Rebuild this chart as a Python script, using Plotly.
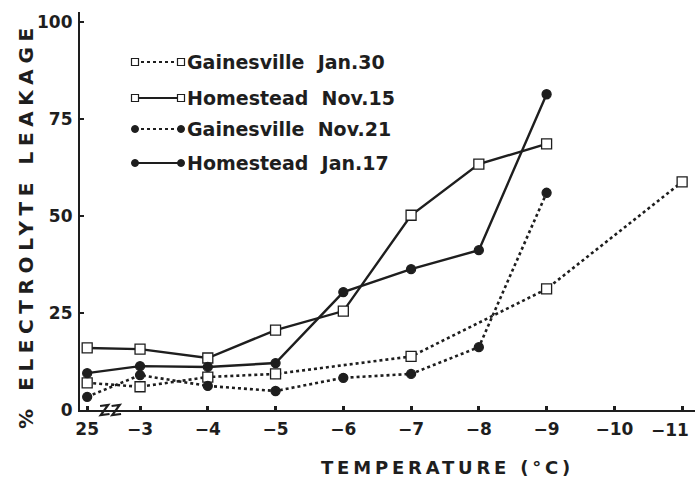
import plotly.graph_objects as go

# Temperatures on the x axis (25 = unfrozen control, shown left of an axis break)
temp_ticks = [25, -3, -4, -5, -6, -7, -8, -9, -10, -11]
temp_labels = ["25", "\u22123", "\u22124", "\u22125", "\u22126", "\u22127",
               "\u22128", "\u22129", "\u221210", "\u221211"]

# % electrolyte leakage per series
gain_jan30_t = [25, -3, -4, -5, -7, -9, -11]
gain_jan30_v = [7.0, 6.0, 8.5, 9.3, 13.8, 31.2, 58.8]

home_nov15_t = [25, -3, -4, -5, -6, -7, -8, -9]
home_nov15_v = [16.0, 15.7, 13.4, 20.6, 25.5, 50.2, 63.4, 68.6]

gain_nov21_t = [25, -3, -4, -5, -6, -7, -8, -9]
gain_nov21_v = [3.4, 9.0, 6.2, 4.9, 8.3, 9.3, 16.2, 56.0]

home_jan17_t = [25, -3, -4, -5, -6, -7, -8, -9]
home_jan17_v = [9.5, 11.3, 11.1, 12.1, 30.4, 36.3, 41.2, 81.4]

y_ticks = [0, 25, 50, 75, 100]

INK = "#1e1e1e"
FONT = "DejaVu Sans"


def xpos(t):
    """Axis position: freezing temps map to |t|; the control sits before the break."""
    return 2.22 if t > 0 else -t


series = [
    ("Gainesville  Jan.30", gain_jan30_t, gain_jan30_v, "dot", "square-open"),
    ("Homestead  Nov.15", home_nov15_t, home_nov15_v, "solid", "square-open"),
    ("Gainesville  Nov.21", gain_nov21_t, gain_nov21_v, "dot", "circle"),
    ("Homestead  Jan.17", home_jan17_t, home_jan17_v, "solid", "circle"),
]

fig = go.Figure()
for name, ts, vs, dash, sym in series:
    is_open = sym == "square-open"
    fig.add_trace(go.Scatter(
        x=[xpos(t) for t in ts], y=vs, name=name, mode="lines+markers",
        line=dict(color=INK, width=2.4 if dash == "solid" else 2.6, dash=dash),
        marker=dict(symbol="square" if is_open else "circle",
                    size=10 if is_open else 9,
                    color="white" if is_open else INK,
                    line=dict(color=INK, width=1.3)),
        cliponaxis=False, showlegend=False,
    ))

# plot area geometry in pixels
L, R, T, B = 80, 0, 12, 73
W, H = 695, 483
PW, PH = W - L - R, H - T - B


def px(x):
    return (x - L) / PW


def py(y):
    return (H - B - y) / PH


shapes = []
annotations = []

# legend drawn as line samples with a marker at each end
legend_rows = [62, 98, 129, 163]
for (name, ts, vs, dash, sym), yrow in zip(series, legend_rows):
    x0, x1 = 135, 181
    shapes.append(dict(type="line", xref="paper", yref="paper",
                       x0=px(x0), x1=px(x1), y0=py(yrow), y1=py(yrow),
                       line=dict(color=INK, width=2.2, dash=dash)))
    for xm in (x0, x1):
        r = 3.5
        if sym == "square-open":
            shapes.append(dict(type="rect", xref="paper", yref="paper",
                               x0=px(xm - r), x1=px(xm + r),
                               y0=py(yrow + r), y1=py(yrow - r),
                               fillcolor="white", line=dict(color=INK, width=1.2)))
        else:
            shapes.append(dict(type="circle", xref="paper", yref="paper",
                               x0=px(xm - r), x1=px(xm + r),
                               y0=py(yrow + r), y1=py(yrow - r),
                               fillcolor=INK, line=dict(color=INK, width=1)))
    annotations.append(dict(text=name.replace(" ", "&nbsp;"), xref="paper", yref="paper",
                            x=px(185), y=py(yrow), xanchor="left", yanchor="middle",
                            showarrow=False,
                            font=dict(family=FONT, size=19, color=INK, weight="bold")))

# axis break marks on the x axis between the control and -3
for xb in (2.41, 2.58):
    shapes.append(dict(type="path", xref="x", yref="paper",
                       path=(f"M {xb},{py(406)} L {xb + 0.12},{py(405)} "
                             f"L {xb + 0.01},{py(415)} L {xb + 0.14},{py(414)}"),
                       line=dict(color=INK, width=2.2)))

# the last tick label sits against the right edge, so it is drawn right-aligned
tick_text = temp_labels[:-1] + [""]
annotations.append(dict(text=temp_labels[-1], xref="x", yref="paper",
                        x=xpos(temp_ticks[-1]), xshift=9, y=py(418),
                        xanchor="right", yanchor="top", showarrow=False,
                        font=dict(family=FONT, size=17, color=INK, weight="bold")))

# axis titles, letter-spaced
annotations.append(dict(text='<span style="letter-spacing:5.6px">% ELECTROLYTE LEAKAGE</span>',
                        xref="paper", yref="paper",
                        x=px(26), y=py(226), textangle=-90, showarrow=False,
                        xanchor="center", yanchor="middle",
                        font=dict(family=FONT, size=20, color=INK, weight="bold")))
annotations.append(dict(text='<span style="letter-spacing:3.8px">TEMPERATURE (\u00b0C)</span>',
                        xref="paper", yref="paper",
                        x=px(447), y=py(467), showarrow=False,
                        xanchor="center", yanchor="middle",
                        font=dict(family=FONT, size=18, color=INK, weight="bold")))

fig.update_layout(
    width=W, height=H,
    margin=dict(l=L, r=R, t=T, b=B, autoexpand=False),
    paper_bgcolor="white", plot_bgcolor="white",
    showlegend=False,
    shapes=shapes, annotations=annotations,
    xaxis=dict(range=[2.114, 11.19], tickvals=[xpos(t) for t in temp_ticks],
               ticktext=tick_text, showgrid=False, zeroline=False,
               showline=True, linecolor=INK, linewidth=2.2, automargin=False,
               ticks="inside", ticklen=4, tickwidth=2.5, tickcolor=INK,
               ticklabelstandoff=2, ticklabeloverflow="allow",
               tickfont=dict(family=FONT, size=17, color=INK, weight="bold")),
    yaxis=dict(range=[0, 102.6], tickvals=y_ticks,
               showgrid=False, zeroline=False, automargin=False,
               showline=True, linecolor=INK, linewidth=2.2,
               ticks="inside", ticklen=4, tickwidth=2, tickcolor=INK,
               ticklabelstandoff=2,
               tickfont=dict(family=FONT, size=17, color=INK, weight="bold")),
)

fig.write_html("out.html")
